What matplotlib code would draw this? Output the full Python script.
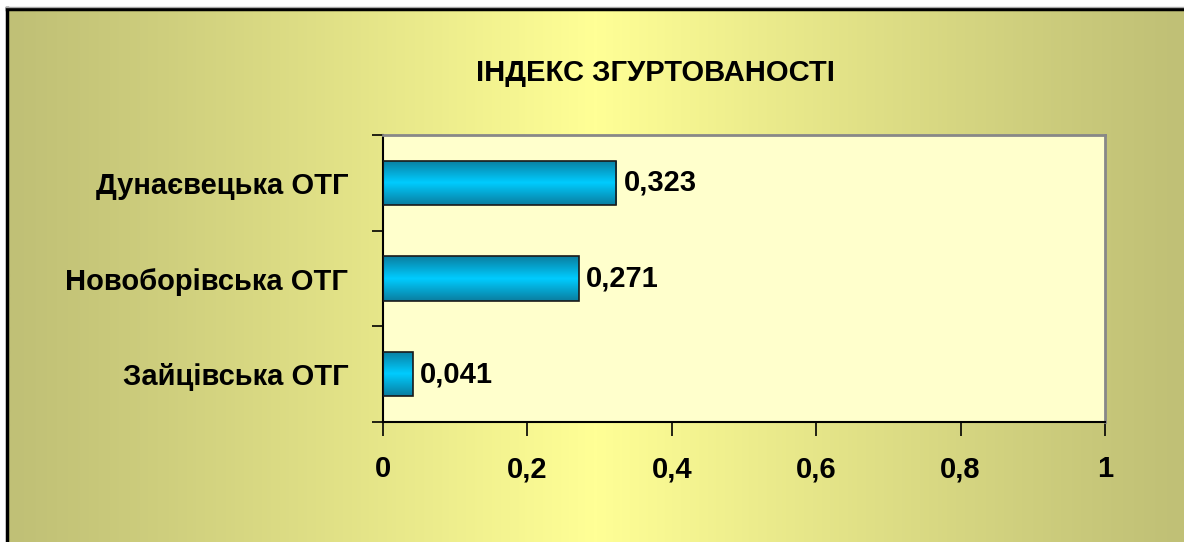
import matplotlib.pyplot as plt
import numpy as np
from matplotlib.colors import LinearSegmentedColormap

plt.rcParams['font.family'] = ['Liberation Sans', 'DejaVu Sans']
plt.rcParams['font.weight'] = 'bold'

# data
categories = ['Зайцівська ОТГ', 'Новоборівська ОТГ', 'Дунаєвецька ОТГ']
values = [0.041, 0.271, 0.323]
value_labels = ['0,041', '0,271', '0,323']
xticks = [0, 0.2, 0.4, 0.6, 0.8, 1]
xtick_labels = ['0', '0,2', '0,4', '0,6', '0,8', '1']
title = 'ІНДЕКС ЗГУРТОВАНОСТІ'

W, H = 1184, 542
fs = 21
fig = plt.figure(figsize=(W / 100, H / 100), dpi=100, facecolor='white')

# background gradient (khaki at edges, pale yellow in the middle)
bg = fig.add_axes([7 / W, 0, 1 - 7 / W, 1 - 9 / H], zorder=-10)
bg_cmap = LinearSegmentedColormap.from_list('bg', ['#c0c076', '#ffff96'])
xs = np.linspace(0, 1, 400)
grad = 1 - np.abs(xs - 0.5) * 2
grad = np.clip(grad, 0, 1) ** 1.1
bg.imshow(grad[np.newaxis, :], aspect='auto', cmap=bg_cmap, extent=[0, 1, 0, 1], vmin=0, vmax=1)
bg.set_axis_off()
fig.add_artist(plt.Line2D([7 / W, 7 / W], [0, 1 - 8 / H], color='black', lw=2.5, transform=fig.transFigure))
fig.add_artist(plt.Line2D([7 / W, 1], [1 - 9 / H, 1 - 9 / H], color='black', lw=2.5, transform=fig.transFigure))
fig.add_artist(plt.Line2D([6 / W, 1], [1 - 7 / H, 1 - 7 / H], color='#aaaaaa', lw=1, transform=fig.transFigure))

# plot area
left, right, top, bottom = 383, 1105, 135, 422
ax = fig.add_axes([left / W, 1 - bottom / H, (right - left) / W, (bottom - top) / H])
ax.set_facecolor('#ffffcc')
y = np.arange(len(categories))
bars = ax.barh(y, values, height=0.46, color='none', edgecolor='#1a1a1a', lw=1.2, zorder=3)

bar_cmap = LinearSegmentedColormap.from_list('bar', ['#0a7ea0', '#00ccff', '#0a7ea0'])
ys = np.linspace(0, 1, 100)[:, np.newaxis]
for b in bars:
    x0, y0 = b.get_x(), b.get_y()
    im = ax.imshow(ys, aspect='auto', cmap=bar_cmap,
                   extent=[x0, x0 + b.get_width(), y0, y0 + b.get_height()], zorder=2)
    im.set_clip_path(b)

for yi, v, lab in zip(y, values, value_labels):
    ax.text(v + 0.01, yi, lab, va='center', ha='left', fontsize=fs, fontweight='bold')

ax.set_xlim(0, 1)
ax.set_ylim(-0.5, len(categories) - 0.5)
ax.set_xticks(xticks)
ax.set_xticklabels(xtick_labels, fontsize=fs, fontweight='bold')
ax.set_yticks(y)
ax.set_yticklabels(categories, fontsize=fs, fontweight='bold')
ax.tick_params(axis='y', length=0, pad=25)
ax.set_yticks(np.arange(len(categories) + 1) - 0.5, minor=True)
ax.tick_params(axis='y', which='minor', length=8, width=1.2, direction='out')
ax.tick_params(axis='x', length=10, width=1.2, direction='out', pad=14)

for s in ['left', 'bottom']:
    ax.spines[s].set_color('black')
    ax.spines[s].set_linewidth(1.5)
for s in ['top', 'right']:
    ax.spines[s].set_color('#888888')
    ax.spines[s].set_linewidth(2)

fig.text(655 / W, 1 - 73 / H, title, ha='center', va='center', fontsize=fs, fontweight='bold')

fig.savefig('out.png', dpi=100)
